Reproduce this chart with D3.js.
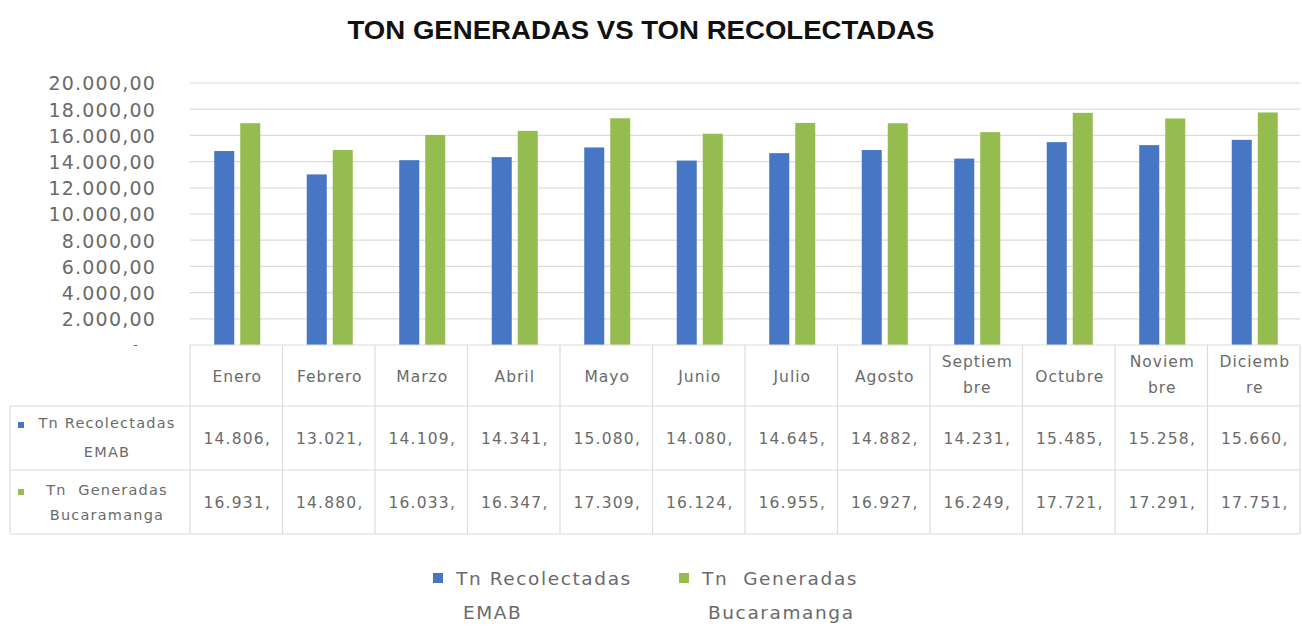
<!DOCTYPE html>
<html><head><meta charset="utf-8">
<script src="https://cdn.jsdelivr.net/npm/d3@7"></script>
<style>
html,body{margin:0;padding:0;background:#fff;}
svg{display:block;}
text{white-space:pre;}
</style></head>
<body>
<svg id="chart" width="1302" height="628"></svg>
<script>
const title = "TON GENERADAS VS TON RECOLECTADAS";
const months = ["Enero","Febrero","Marzo","Abril","Mayo","Junio","Julio","Agosto","Septiembre","Octubre","Noviembre","Diciembre"];
const monthLabels = [["Enero"],["Febrero"],["Marzo"],["Abril"],["Mayo"],["Junio"],["Julio"],["Agosto"],["Septiem","bre"],["Octubre"],["Noviem","bre"],["Diciemb","re"]];
const seriesNames = ["Tn Recolectadas EMAB","Tn  Generadas Bucaramanga"];
const seriesLabelLines = [["Tn Recolectadas","EMAB"],["Tn  Generadas","Bucaramanga"]];
const recolectadas = [14806,13021,14109,14341,15080,14080,14645,14882,14231,15485,15258,15660];
const generadas = [16931,14880,16033,16347,17309,16124,16955,16927,16249,17721,17291,17751];
const yTicks = [0,2000,4000,6000,8000,10000,12000,14000,16000,18000,20000];
const colors = ["#4676C4","#94BC4F"];

(function(){
const locale = d3.formatLocale({decimal:",", thousands:".", grouping:[3], currency:["$",""]});
const fmtTick = locale.format(",.2f");
const fmtInt = locale.format(",d");

const svg = d3.select("#chart");
const font = "'DejaVu Sans', Verdana, sans-serif";
const textColor = "#6a6a6a";
const gridColor = "#dcdcdc";

const pLeft = 190, pRight = 1300, pTop = 83, pBottom = 345;
const x = d3.scaleBand().domain(months).range([pLeft, pRight]).paddingInner(0).paddingOuter(0);
const y = d3.scaleLinear().domain([0,20000]).range([pBottom, pTop]);
const bw = 20, gap = 6;
const sub = d3.scaleBand().domain([0,1]).range([0, bw*2+gap]).paddingInner(gap/(bw+gap));

// title
svg.append("text").attr("x", 641).attr("y", 39).attr("text-anchor","middle")
  .attr("font-family","'Liberation Sans Narrow','Arial Narrow','Liberation Sans',sans-serif")
  .attr("font-weight","bold").attr("font-size",25).attr("fill","#111")
  .attr("textLength",587).attr("lengthAdjust","spacingAndGlyphs")
  .text(title);

// gridlines
svg.append("g").selectAll("line").data(yTicks.filter(d=>d>0)).join("line")
  .attr("x1",pLeft).attr("x2",pRight).attr("y1",d=>y(d)).attr("y2",d=>y(d))
  .attr("stroke",gridColor).attr("stroke-width",1.2);

// y axis
const yAxis = d3.axisLeft(y).tickValues(yTicks).tickSize(0).tickPadding(0)
  .tickFormat(d=> d===0 ? "-" : fmtTick(d));
const ya = svg.append("g").attr("transform",`translate(156,0)`).call(yAxis);
ya.select(".domain").remove();
ya.selectAll("text").attr("font-family",font).attr("font-size",19).attr("fill",textColor)
  .attr("letter-spacing",1.2).attr("dy","0.36em");
ya.selectAll(".tick").filter(d=>d===0).select("text").attr("font-size",13).attr("dx",-17).attr("dy","0.3em");

// bars
const data = months.map((m,i)=>({m, vals:[recolectadas[i], generadas[i]]}));
const groups = svg.append("g").selectAll("g").data(data).join("g")
  .attr("transform",d=>`translate(${x(d.m)+x.bandwidth()/2-(bw*2+gap)/2+1},0)`);
groups.selectAll("rect").data(d=>d.vals.map((v,k)=>({v,k}))).join("rect")
  .attr("x",d=>sub(d.k)).attr("width",sub.bandwidth())
  .attr("y",d=>y(d.v)).attr("height",d=>y(0)-y(d.v))
  .attr("fill",d=>colors[d.k]);

// table
const rowY = [345, 406, 470, 534];
const tableLeft = 10;
const tg = svg.append("g").attr("stroke",gridColor).attr("stroke-width",1.2);
tg.append("line").attr("x1",pLeft).attr("x2",pRight).attr("y1",rowY[0]).attr("y2",rowY[0]);
[1,2,3].forEach(i=>tg.append("line").attr("x1",tableLeft).attr("x2",pRight).attr("y1",rowY[i]).attr("y2",rowY[i]));
const vx = months.map(m=>x(m)).concat([pRight]);
vx.forEach(v=>tg.append("line").attr("x1",v).attr("x2",v).attr("y1",rowY[0]).attr("y2",rowY[3]));
tg.append("line").attr("x1",tableLeft).attr("x2",tableLeft).attr("y1",rowY[1]).attr("y2",rowY[3]);

// month labels
const ml = svg.append("g");
months.forEach((m,i)=>{
  const lines = monthLabels[i];
  const cy = (rowY[0]+rowY[1])/2;
  const t = ml.append("text").attr("text-anchor","middle").attr("font-family",font)
    .attr("font-size",15.5).attr("letter-spacing",1).attr("fill",textColor);
  lines.forEach((ln,j)=>{
    const yy = lines.length===1 ? cy+6.5 : (j===0 ? cy-9 : cy+17);
    t.append("tspan").attr("x", x(m)+x.bandwidth()/2+1).attr("y", yy).text(ln);
  });
});

// values
const series = [recolectadas, generadas];
const rowLineOff = [[-10,19],[-7,18]];
series.forEach((s,k)=>{
  const cy = (rowY[k+1]+rowY[k+2])/2;
  svg.append("g").selectAll("text").data(s).join("text")
    .attr("x",(d,i)=>x(months[i])+x.bandwidth()/2+1).attr("y",cy+6)
    .attr("text-anchor","middle").attr("font-family",font).attr("font-size",15.5)
    .attr("letter-spacing",1.2)
    .attr("fill",textColor).text(d=>fmtInt(d)+",");
  const lines = seriesLabelLines[k];
  const t = svg.append("text").attr("text-anchor","middle").attr("font-family",font)
    .attr("font-size",14.5).attr("letter-spacing",1.2).attr("fill",textColor);
  lines.forEach((ln,j)=>{
    t.append("tspan").attr("x", 107).attr("y", cy + rowLineOff[k][j]).text(ln);
  });
  svg.append("rect").attr("x",18).attr("y",cy+rowLineOff[k][0]-6).attr("width",6).attr("height",6).attr("fill",colors[k]);
});

// legend
const lg = svg.append("g");
const legX = [433, 679];
const legSecond = [463, 708];
seriesLabelLines.forEach((lines,k)=>{
  lg.append("rect").attr("x",legX[k]).attr("y",573).attr("width",10).attr("height",10).attr("fill",colors[k]);
  const t = lg.append("text").attr("font-family",font).attr("font-size",18.5)
    .attr("letter-spacing",1.6).attr("fill",textColor);
  t.append("tspan").attr("x",legX[k]+23).attr("y",585).text(lines[0]);
  t.append("tspan").attr("x",legSecond[k]).attr("y",619).text(lines[1]);
});
})();
</script>
</body></html>
